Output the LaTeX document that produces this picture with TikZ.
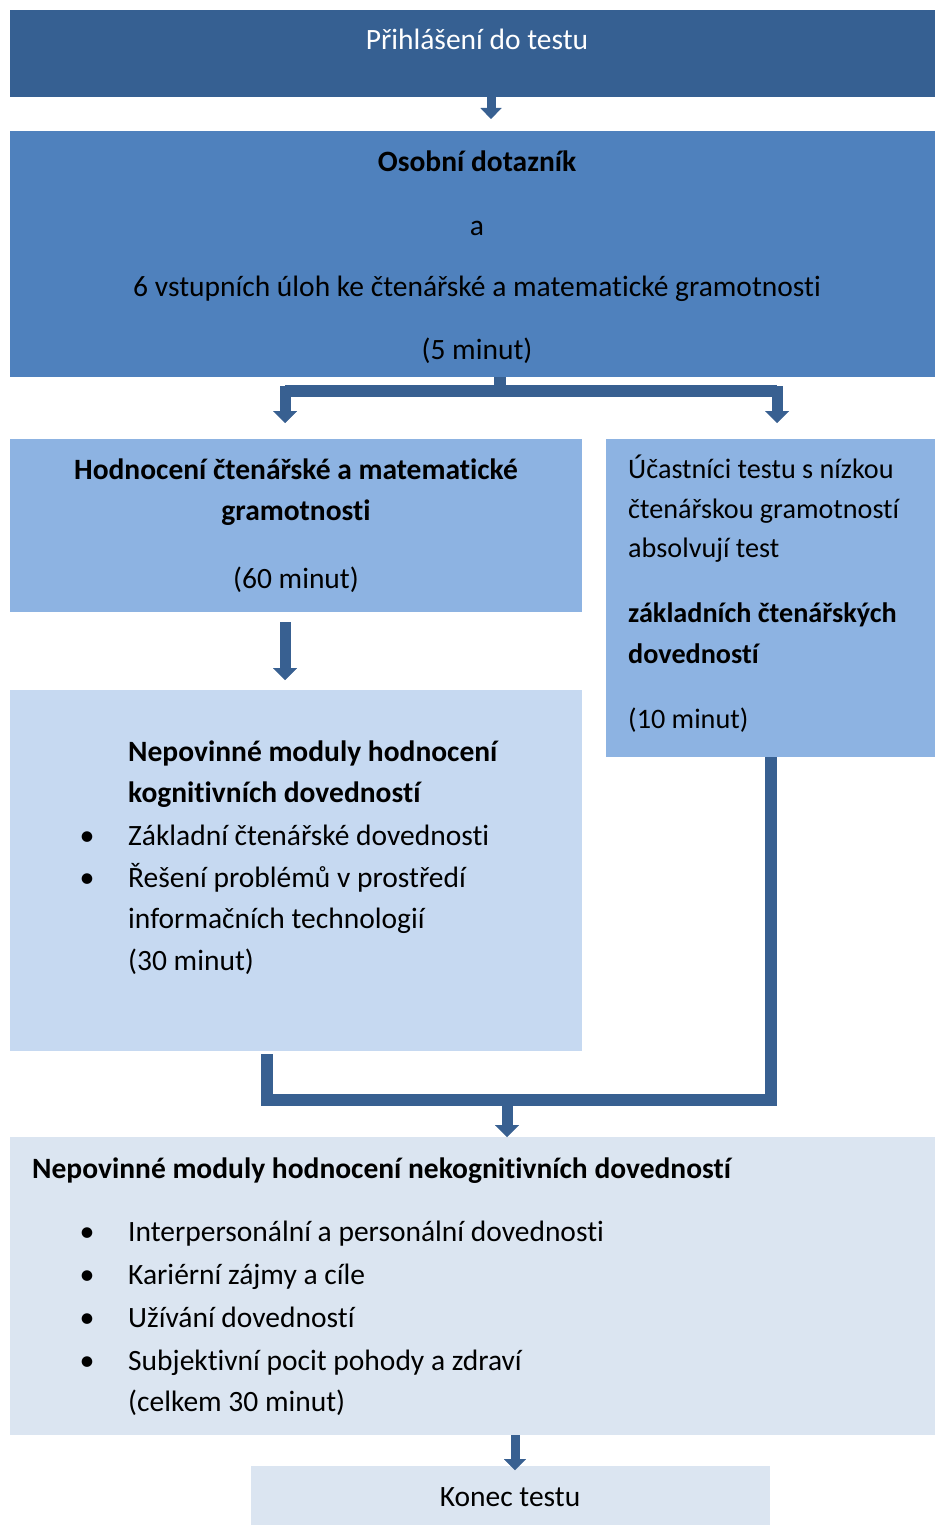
\documentclass[tikz,border=0pt]{standalone}
\usepackage{fontspec}
\setmainfont{Carlito}[Ligatures=NoCommon]
\usetikzlibrary{arrows.meta}
\definecolor{cTop}{RGB}{54,96,146}
\definecolor{cMid}{RGB}{79,129,189}
\definecolor{cLight}{RGB}{141,179,226}
\definecolor{cPale}{RGB}{198,217,241}
\definecolor{cPaler}{RGB}{219,229,241}
\definecolor{cArr}{RGB}{56,96,145}
\begin{document}
\begin{tikzpicture}[x=1pt,y=-1pt,
  every node/.style={font=\fontsize{29.5}{34}\selectfont},
  box/.style={draw=none,inner sep=0pt,outer sep=0pt,anchor=north west},
  tc/.style={anchor=mid,inner sep=0pt,yshift=-7pt},
  tl/.style={anchor=mid west,inner sep=0pt,yshift=-7pt},
  ts/.style={tl,font=\fontsize{28.2}{34}\selectfont},
  bul/.style={anchor=mid,inner sep=0pt,yshift=-7pt,font=\fontsize{30}{34}\selectfont},
  conn/.style={draw=cArr,line width=11pt,-{Triangle[width=24pt,length=12pt,line width=0.01pt]}},
  bar/.style={draw=cArr,line width=12.5pt,line join=miter}]
\useasboundingbox (0,0) rectangle (935,1525);
% boxes
\node[box,fill=cTop,minimum width=925pt,minimum height=87pt] (b1) at (10,10) {};
\node[box,fill=cMid,minimum width=925pt,minimum height=246pt] (b2) at (10,131) {};
\node[box,fill=cLight,minimum width=572pt,minimum height=173pt] (b3) at (10,439) {};
\node[box,fill=cLight,minimum width=329pt,minimum height=318pt] (b4) at (606,439) {};
\node[box,fill=cPale,minimum width=572pt,minimum height=361pt] (b5) at (10,690) {};
\node[box,fill=cPaler,minimum width=925pt,minimum height=298pt] (b6) at (10,1137) {};
\node[box,fill=cPaler,minimum width=519pt,minimum height=59pt] (b7) at (251,1466) {};
% texts
\node[tc,text=white] at (477,40) {Přihlášení do testu};
\node[tc] at (477,162) {\textbf{Osobní dotazník}};
\node[tc] at (477,226) {a};
\node[tc] at (477,287) {6 vstupních úloh ke čtenářské a matematické gramotnosti};
\node[tc] at (477,350) {(5 minut)};
\node[tc] at (296,470) {\textbf{Hodnocení čtenářské a matematické}};
\node[tc] at (296,511) {\textbf{gramotnosti}};
\node[tc] at (296,579) {(60 minut)};
\node[ts] at (628,469) {Účastníci testu s nízkou};
\node[ts] at (628,509) {čtenářskou gramotností};
\node[ts] at (628,548) {absolvují test};
\node[ts] at (628,613) {\textbf{základních čtenářských}};
\node[ts] at (628,654) {\textbf{dovedností}};
\node[ts] at (628,719) {(10 minut)};
\node[tl] at (128,752) {\textbf{Nepovinné moduly hodnocení}};
\node[tl] at (128,793) {\textbf{kognitivních dovedností}};
\node[bul] at (87,836) {•};
\node[tl] at (128,836) {Základní čtenářské dovednosti};
\node[bul] at (87,878) {•};
\node[tl] at (128,878) {Řešení problémů v prostředí};
\node[tl] at (128,919) {informačních technologií};
\node[tl] at (128,961) {(30 minut)};
\node[tl] at (32,1169) {\textbf{Nepovinné moduly hodnocení nekognitivních dovedností}};
\node[bul] at (87,1232) {•};
\node[tl] at (128,1232) {Interpersonální a personální dovednosti};
\node[bul] at (87,1275) {•};
\node[tl] at (128,1275) {Kariérní zájmy a cíle};
\node[bul] at (87,1318) {•};
\node[tl] at (128,1318) {Užívání dovedností};
\node[bul] at (87,1361) {•};
\node[tl] at (128,1361) {Subjektivní pocit pohody a zdraví};
\node[tl] at (128,1402) {(celkem 30 minut)};
\node[tc] at (510,1497) {Konec testu};
% connector coordinates
\coordinate (x1) at (491,0);
\coordinate (e0) at (491,119);
\coordinate (j1) at (500,391);
\coordinate (e1) at (285,423);
\coordinate (e2) at (777,423);
\coordinate (s3) at (285,622);
\coordinate (e3) at (285,680);
\coordinate (s4) at (267,1054);
\coordinate (j2) at (507,1100);
\coordinate (x5) at (771,0);
\coordinate (x6) at (515,0);
\coordinate (e6) at (515,1470);
% connectors
\draw[conn,line width=9pt,-{Triangle[width=21pt,length=11pt,line width=0.01pt]}] (b1.south -| x1) -- (e0);
\draw[bar] (b2.south -| j1) -- (j1);
\draw[conn,line width=11pt] (j1) -| (e1);
\draw[conn,line width=11pt] (j1) -| (e2);
\draw[bar,line width=12.5pt] (e1 |- j1) -- (e2 |- j1);
\draw[conn] (s3) -- (e3);
\draw[bar] (s4) -- (s4 |- j2) -- (j2 -| x5) -- (b4.south -| x5);
\draw[conn] (j2) -- (b6.north -| j2);
\draw[conn,line width=9pt,-{Triangle[width=22pt,length=11pt,line width=0.01pt]}] (b6.south -| x6) -- (e6);
\end{tikzpicture}
\end{document}
